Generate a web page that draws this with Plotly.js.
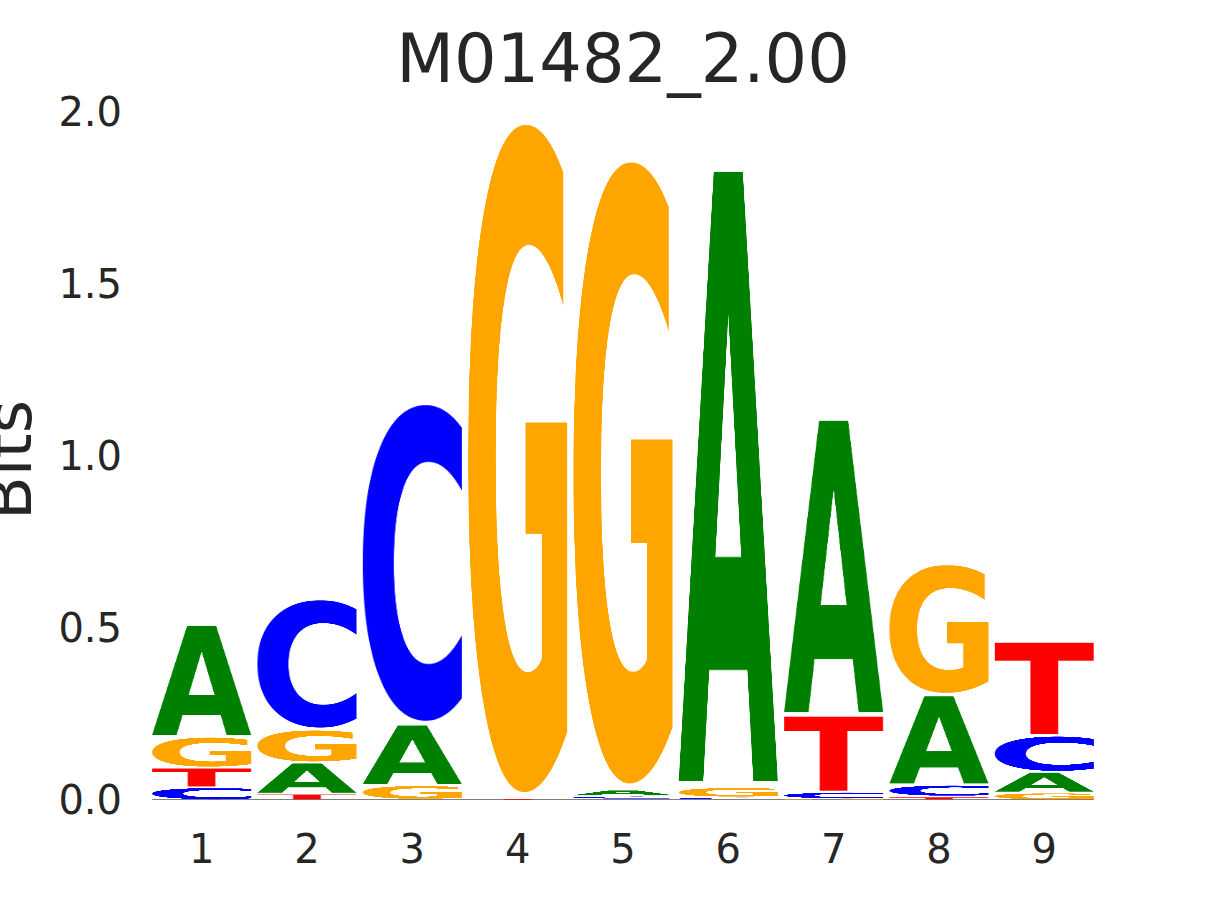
<!DOCTYPE html>
<html><head><meta charset="utf-8">
<script src="https://cdn.plot.ly/plotly-3.0.1.min.js"></script>
<style>body{margin:0;background:#fff}</style>
</head><body><div id="chart" style="width:1215px;height:900px"></div>
<script>
// ---- data (bits per nucleotide at each motif position) ----
const positions = [1, 2, 3, 4, 5, 6, 7, 8, 9];
const bitsA = [0.327, 0.091, 0.177, 0.000, 0.018, 1.807, 0.866, 0.262, 0.060];
const bitsC = [0.037, 0.381, 0.938, 0.000, 0.010, 0.0055, 0.020, 0.034, 0.106];
const bitsG = [0.090, 0.096, 0.042, 1.978, 1.841, 0.0295, 0.003, 0.382, 0.0215];
const bitsT = [0.057, 0.018, 0.001, 0.0035, 0.002, 0.002, 0.223, 0.010, 0.274];
const letters = ['A', 'C', 'G', 'T'];
const letterColors = {A: '#008000', C: '#0000ff', G: '#ffa500', T: '#ff0000'};
const yTickValues = [0, 0.5, 1.0, 1.5, 2.0];
const yTickLabels = ['0.0', '0.5', '1.0', '1.5', '2.0'];
const chartTitle = 'M01482_2.00';
const yLabel = 'Bits';

const bitsByLetter = {A: bitsA, C: bitsC, G: bitsG, T: bitsT};
const FONT = '"DejaVu Sans", "Liberation Sans", sans-serif';
const TXT = '#262626';
const LETTER_WIDTH = 0.94;

// render a bold glyph into a tightly cropped canvas image
function glyphImage(letter, color) {
  const c = document.createElement('canvas');
  c.width = 420; c.height = 1200;
  const ctx = c.getContext('2d');
  ctx.fillStyle = color;
  ctx.font = 'bold 360px "DejaVu Sans"';
  ctx.textBaseline = 'alphabetic';
  ctx.save();
  ctx.scale(1, 3);
  ctx.fillText(letter, 60, 350);
  ctx.restore();
  const d = ctx.getImageData(0, 0, c.width, c.height).data;
  let x0 = c.width, x1 = -1, y0 = c.height, y1 = -1;
  for (let y = 0; y < c.height; y++) {
    for (let x = 0; x < c.width; x++) {
      if (d[(y * c.width + x) * 4 + 3] > 127) {
        if (x < x0) x0 = x; if (x > x1) x1 = x;
        if (y < y0) y0 = y; if (y > y1) y1 = y;
      }
    }
  }
  const w = x1 - x0 + 1, h = y1 - y0 + 1;
  const o = document.createElement('canvas');
  o.width = w; o.height = h;
  o.getContext('2d').drawImage(c, x0, y0, w, h, 0, 0, w, h);
  return o.toDataURL('image/png');
}

const glyphs = {};
letters.forEach(l => { glyphs[l] = glyphImage(l, letterColors[l]); });

const images = [];
positions.forEach((p, i) => {
  const stack = letters.map(l => ({l, v: bitsByLetter[l][i]}))
    .sort((a, b) => a.v - b.v);
  let floor = 0;
  stack.forEach(({l, v}) => {
    if (v > 0) {
      const pad = Math.min(0.002 + 0.009 * v, 0.2 * v);
      images.push({
        source: glyphs[l], xref: 'x', yref: 'y',
        x: p - LETTER_WIDTH / 2, y: floor + v - pad,
        sizex: LETTER_WIDTH, sizey: v - 2 * pad,
        sizing: 'stretch', xanchor: 'left', yanchor: 'top', layer: 'above'
      });
    }
    floor += v;
  });
});

const baseline = {
  type: 'scatter', mode: 'lines',
  x: [positions[0] - LETTER_WIDTH / 2, positions[positions.length - 1] + LETTER_WIDTH / 2],
  y: [0, 0],
  line: {color: '#000000', width: 1.2},
  hoverinfo: 'skip', showlegend: false
};

const layout = {
  width: 1215, height: 900,
  margin: {l: 149, r: 118, t: 112, b: 100},
  paper_bgcolor: '#ffffff', plot_bgcolor: '#ffffff',
  showlegend: false,
  font: {family: FONT, color: TXT},
  title: {
    text: chartTitle, font: {family: FONT, size: 67, color: TXT},
    x: 0.5, xref: 'paper', xanchor: 'center',
    y: 0.9352, yref: 'container', yanchor: 'middle'
  },
  xaxis: {
    range: [0.5, 9.5], tickmode: 'array', tickvals: positions,
    ticktext: positions.map(String),
    showgrid: false, zeroline: false, showline: false, ticks: '',
    ticklabelstandoff: 22,
    tickfont: {family: FONT, size: 40, color: TXT}, fixedrange: true
  },
  yaxis: {
    range: [0, 2], tickmode: 'array', tickvals: yTickValues, ticktext: yTickLabels,
    showgrid: false, zeroline: false, showline: false, ticks: '',
    ticklabelstandoff: 26,
    tickfont: {family: FONT, size: 40, color: TXT}, fixedrange: true
  },
  annotations: [{
    text: yLabel, textangle: -90, showarrow: false,
    xref: 'paper', yref: 'paper', x: -0.147, y: 0.4935,
    xanchor: 'center', yanchor: 'middle',
    font: {family: FONT, size: 64, color: TXT}
  }],
  images: images
};

Plotly.newPlot('chart', [baseline], layout, {displayModeBar: false, staticPlot: true});
</script>
</body></html>
